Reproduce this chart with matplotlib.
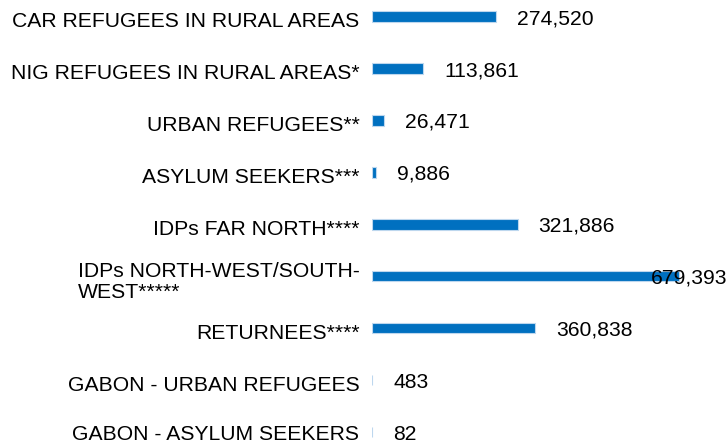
import matplotlib
matplotlib.use("Agg")
import matplotlib.pyplot as plt
from matplotlib.transforms import ScaledTranslation

# Data
categories = ["CAR REFUGEES IN RURAL AREAS",
              "NIG REFUGEES IN RURAL AREAS*",
              "URBAN REFUGEES**",
              "ASYLUM SEEKERS***",
              "IDPs FAR NORTH****",
              "IDPs NORTH-WEST/SOUTH-\nWEST*****",
              "RETURNEES****",
              "GABON - URBAN REFUGEES",
              "GABON - ASYLUM SEEKERS"]
values = [274520, 113861, 26471, 9886, 321886, 679393, 360838, 483, 82]

plt.rcParams['font.family'] = ['Liberation Sans', 'DejaVu Sans']

fig = plt.figure(figsize=(7.27, 4.45), dpi=100)
ax = fig.add_axes([372 / 727, 0, 355 / 727, 1])

ypos = list(range(len(categories)))
ax.barh(ypos, values, height=0.2, color='#0070C0',
        edgecolor='#BDD7EE', linewidth=0.8)

xmax = 785000
ax.set_xlim(0, xmax)
ax.set_ylim(8.25, -0.32)

ax.set_yticks(ypos)
ax.set_yticklabels(categories, fontsize=15.2, multialignment='left', linespacing=1.1)
ax.tick_params(axis='y', length=0, pad=9)
ax.set_xticks([])
for s in ax.spines.values():
    s.set_visible(False)

# category labels sit a bit lower than the bars (last one kept inside the figure)
labels = ax.get_yticklabels()
for i, lbl in enumerate(labels):
    dy = -3 if i < len(labels) - 1 else 0
    lbl.set_transform(lbl.get_transform() + ScaledTranslation(0, dy / 100, fig.dpi_scale_trans))

# value labels
for y, v in zip(ypos, values):
    txt = "{:,}".format(v)
    if v > 600000:
        ax.annotate(txt, (1.0, y), xycoords=ax.get_yaxis_transform(),
                    xytext=(0, -2), textcoords='offset pixels',
                    ha='right', va='center', fontsize=15.2)
    else:
        ax.annotate(txt, (v, y), xytext=(21, -2), textcoords='offset pixels',
                    ha='left', va='center', fontsize=15.2)

fig.savefig("out.png", dpi=100)
